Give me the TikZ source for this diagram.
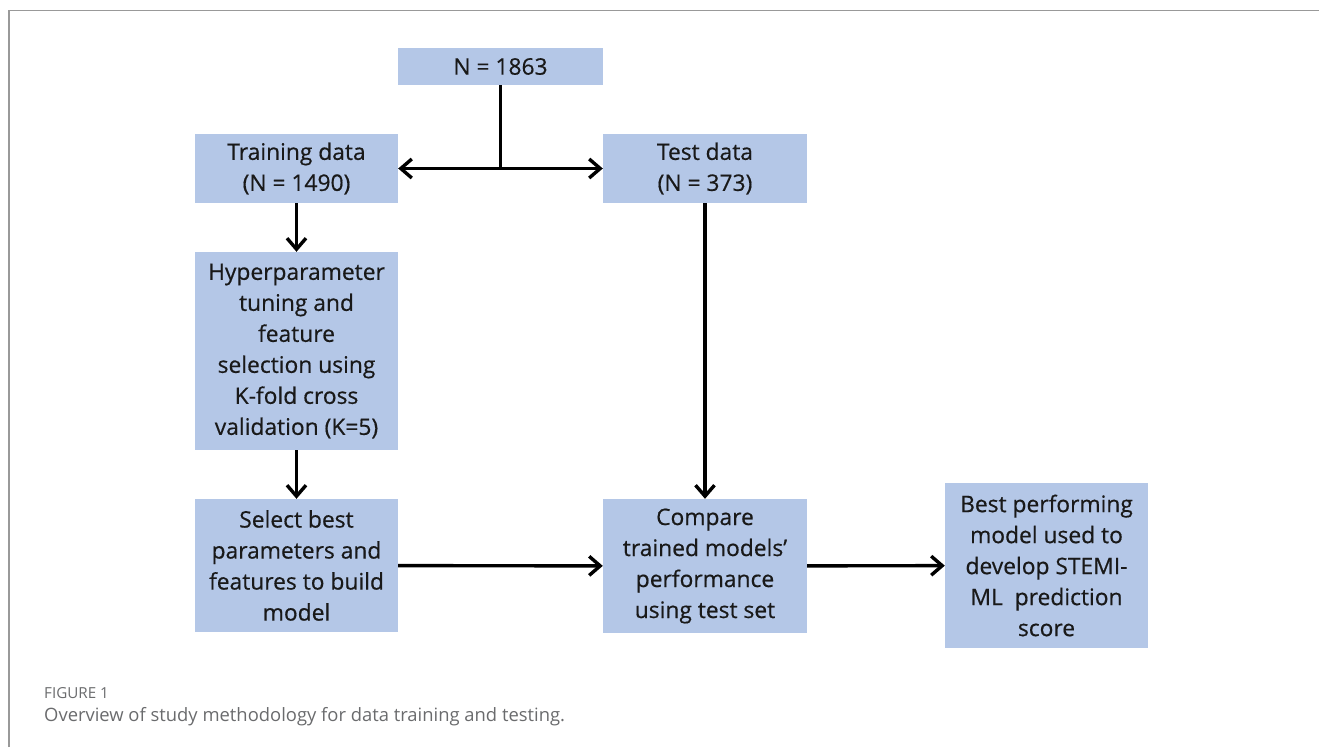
\documentclass[tikz,border=0pt]{standalone}
\usepackage{fontspec}
\setmainfont{Open Sans}
\newfontfamily\boxfont[FakeBold=0.5]{Open Sans}
\usetikzlibrary{arrows.meta}
\definecolor{boxblue}{HTML}{B4C7E7}
\definecolor{captiongray}{HTML}{6A6B6D}

\begin{document}
\begin{tikzpicture}[x=1pt, y=-1pt,
    box/.style={rectangle, fill=boxblue, inner sep=0pt, align=center, text=black!90,
        font=\boxfont\fontsize{22.8}{31}\selectfont},
    link/.style={line width=3.4pt, -{Straight Barb[length=11pt,width=19pt,line width=3.4pt]}},
    frameline/.style={draw=gray!80, line width=1.5pt}]
    \useasboundingbox (0,0) rectangle (1319,747);
    \draw[frameline] (9,747) -- (9,10.5) -- (1319,10.5);
    \node (total) at (500.5,66.5) [box, minimum width=205pt, minimum height=37pt] {N = 1863};
    \node (train) at (296.5,168.5) [box, minimum width=203pt, minimum height=69pt] {Training data\\(N = 1490)};
    \node (test) at (705,168.5) [box, minimum width=204pt, minimum height=69pt] {Test data\\(N = 373)};
    \node (tune) at (296.5,351) [box, minimum width=203pt, minimum height=198pt] {Hyperparameter\\tuning and\\feature\\selection using\\K-fold cross\\validation (K=5)};
    \node (select) at (296.5,565.5) [box, minimum width=203pt, minimum height=133pt] {Select best\\parameters and\\features to build\\model};
    \node (compare) at (705,566) [box, minimum width=204pt, minimum height=134pt] {Compare\\trained models’\\performance\\using test set};
    \node (best) at (1046.5,565.5) [box, minimum width=203pt, minimum height=165pt] {Best performing\\model used to\\develop STEMI-\\ML~ prediction\\score};
    \node (figlabel) at (44,693) [anchor=west, inner sep=0pt, text=captiongray, font=\fontsize{15.2}{17}\selectfont] {FIGURE 1};
    \node (figtext) at (44,717) [anchor=west, inner sep=0pt, text=captiongray, font=\fontsize{18.4}{21}\selectfont] {Overview of study methodology for data training and testing.};
    \coordinate (split) at (total |- train);
    \draw[line width=3.4pt] (total) -- (split);
    \draw[link] (split) -- (train);
    \draw[link] (split) -- (test);
    \draw[link] (train) -- (tune);
    \draw[link] (tune) -- (select);
    \draw[link] (test) -- (compare);
    \draw[link] (select) -- (compare);
    \draw[link] (compare) -- (best);
\end{tikzpicture}
\end{document}
